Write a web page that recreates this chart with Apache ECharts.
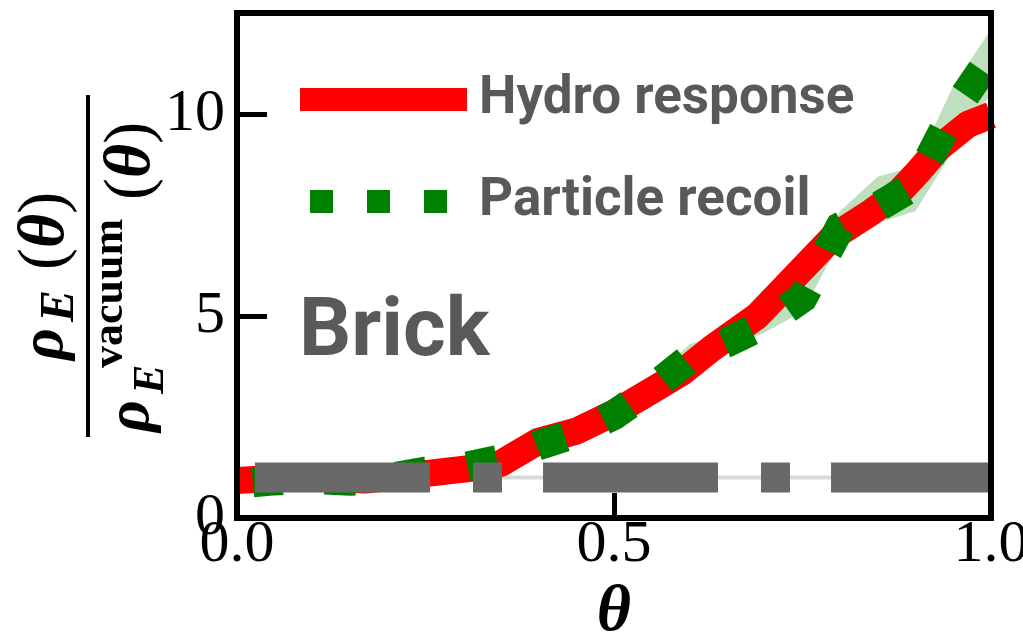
<!DOCTYPE html>
<html>
<head>
<meta charset="utf-8">
<script src="https://cdn.jsdelivr.net/npm/echarts@6/dist/echarts.min.js"></script>
<style>
html,body{margin:0;padding:0;background:#fff;}
#chart{width:1023px;height:633px;}
</style>
</head>
<body>
<div id="chart"></div>
<script>
// ---- data ----
const xTicks = [0, 0.5, 1.0];
const yTicks = [0, 5, 10];

const hydroTheta = [0.0, 0.07, 0.17, 0.25, 0.31, 0.35, 0.40, 0.45, 0.50, 0.55, 0.59, 0.63, 0.69, 0.79, 0.84, 0.88, 0.905, 0.93, 0.97, 1.0];
const hydroValue = [0.93, 1.0, 0.94, 1.1, 1.23, 1.35, 1.9, 2.15, 2.6, 3.15, 3.6, 4.2, 5.0, 6.95, 7.55, 8.1, 8.6, 9.15, 9.75, 9.97];

const recoilTheta = [0.0, 0.05, 0.1, 0.15, 0.2, 0.25, 0.3, 0.35, 0.4, 0.45, 0.5, 0.55, 0.6, 0.65, 0.7, 0.75, 0.8, 0.85, 0.9, 0.95, 1.0];
const recoilValue = [0.85, 0.93, 0.97, 0.92, 0.98, 1.15, 1.25, 1.45, 1.8, 2.1, 2.55, 3.2, 3.95, 4.35, 4.8, 5.45, 7.2, 7.7, 8.25, 10.05, 11.4];
const recoilLow   = [0.75, 0.85, 0.9, 0.85, 0.9, 1.05, 1.15, 1.35, 1.7, 2.0, 2.45, 3.05, 3.75, 4.15, 4.6, 5.1, 6.85, 7.3, 7.6, 9.1, 10.5];
const recoilHigh  = [0.95, 1.0, 1.05, 1.0, 1.06, 1.25, 1.35, 1.55, 1.9, 2.2, 2.65, 3.4, 4.3, 4.6, 5.0, 5.8, 7.6, 8.45, 8.7, 10.7, 12.1];

const vacuumTheta = [0.0, 1.0];
const vacuumValue = [1.0, 1.0];

// ---- chart ----
const chart = echarts.init(document.getElementById('chart'), null, {renderer: 'canvas'});
const serif = 'Liberation Serif';
const sans = 'Roboto';

const pairs = (xs, ys) => xs.map((x, i) => [x, ys[i]]);
const bandData = recoilTheta.map((t, i) => [t, recoilLow[i], recoilHigh[i]]);

const option = {
  animation: false,
  backgroundColor: '#fff',
  grid: {left: 237, right: 32, top: 13, bottom: 115, containLabel: false, outerBoundsMode: 'none'},
  title: {
    text: 'Brick', left: 299, top: 293, padding: 0,
    textStyle: {fontFamily: sans, fontSize: 82, fontWeight: 'bold', color: '#595959'}
  },
  legend: [
    {
      left: 300, top: 73, padding: 0, itemWidth: 167, itemHeight: 23,
      textStyle: {fontFamily: sans, fontSize: 53, fontWeight: 'bold', color: '#595959', padding: [12, 0, 0, 7]},
      data: [{name: 'Hydro response', icon: 'rect', itemStyle: {color: '#ff0000'}}],
      selectedMode: false
    },
    {
      left: 288.5, top: 175, padding: 0, itemWidth: 167, itemHeight: 23,
      textStyle: {fontFamily: sans, fontSize: 53, fontWeight: 'bold', color: '#595959', padding: [12, 0, 0, 7]},
      data: [{name: 'Particle recoil',
              lineStyle: {color: '#008000', width: 23, type: [23, 34], dashOffset: 47, cap: 'butt', opacity: 1},
              itemStyle: {color: 'rgba(0,0,0,0)', borderWidth: 0, opacity: 0}}],
      selectedMode: false
    }
  ],
  xAxis: [
    {
      type: 'value', min: 0, max: 1, interval: 0.5,
      name: 'θ', nameLocation: 'middle', nameGap: 41,
      nameTextStyle: {fontFamily: serif, fontSize: 66, fontWeight: 'bold', fontStyle: 'italic', color: '#000'},
      axisLine: {show: true, onZero: false, lineStyle: {color: '#000', width: 6, cap: 'square'}},
      axisTick: {show: true, inside: true, length: 25, customValues: xTicks, lineStyle: {color: '#000', width: 5}},
      axisLabel: {show: true, margin: -3, customValues: xTicks, formatter: v => v.toFixed(1),
                  fontFamily: serif, fontSize: 60, color: '#000', hideOverlap: false},
      splitLine: {show: false}, z: 10
    },
    {
      type: 'value', min: 0, max: 1, position: 'top',
      axisLine: {show: true, onZero: false, lineStyle: {color: '#000', width: 6, cap: 'square'}},
      axisTick: {show: false}, axisLabel: {show: false}, splitLine: {show: false}, z: 10
    }
  ],
  yAxis: [
    {
      type: 'value', min: 0, max: 12.5, interval: 5,
      axisLine: {show: true, onZero: false, lineStyle: {color: '#000', width: 6, cap: 'square'}},
      axisTick: {show: true, inside: true, length: 30, customValues: yTicks, lineStyle: {color: '#000', width: 5}},
      axisLabel: {show: true, margin: 12, customValues: yTicks, formatter: v => String(v),
                  fontFamily: serif, fontSize: 60, color: '#000'},
      splitLine: {show: false}, z: 10
    },
    {
      type: 'value', min: 0, max: 12.5, position: 'right',
      axisLine: {show: true, onZero: false, lineStyle: {color: '#000', width: 6, cap: 'square'}},
      axisTick: {show: false}, axisLabel: {show: false}, splitLine: {show: false}, z: 10
    }
  ],
  series: [
    {
      name: 'Recoil band', type: 'custom', z: 1, silent: true,
      data: bandData,
      encode: {x: 0, y: [1, 2]},
      renderItem: function (params, api) {
        if (params.dataIndex !== 0) return null;
        const pts = [];
        for (let i = 0; i < recoilTheta.length; i++) pts.push(api.coord([recoilTheta[i], recoilHigh[i]]));
        for (let i = recoilTheta.length - 1; i >= 0; i--) pts.push(api.coord([recoilTheta[i], recoilLow[i]]));
        return {type: 'polygon', shape: {points: pts}, style: {fill: 'rgba(0,128,0,0.25)'}};
      }
    },
    {
      name: 'vacuum ref', type: 'line', z: 2, symbol: 'none', silent: true,
      data: pairs(vacuumTheta, vacuumValue),
      lineStyle: {color: '#d9d9d9', width: 4}
    },
    {
      name: 'Hydro response', type: 'line', z: 3, symbol: 'none',
      data: pairs(hydroTheta, hydroValue),
      lineStyle: {color: '#ff0000', width: 27, join: 'round', cap: 'butt'},
      itemStyle: {color: '#ff0000'}
    },
    {
      name: 'Particle recoil', type: 'line', z: 4, symbol: 'none',
      data: pairs(recoilTheta, recoilValue),
      lineStyle: {color: '#008000', width: 30, type: [30, 42], dashOffset: 56, join: 'miter', cap: 'butt'},
      itemStyle: {color: '#008000'}
    },
    {
      name: 'vacuum dashed', type: 'line', z: 5, symbol: 'none', silent: true,
      data: pairs(vacuumTheta, vacuumValue),
      lineStyle: {color: '#696969', width: 30, type: [175, 43, 29, 41], dashOffset: 270, cap: 'butt'}
    }
  ],
  graphic: [
    {
      type: 'group', x: 88, y: 266, rotation: Math.PI / 2, silent: true,
      children: [
        {type: 'line', shape: {x1: -171, y1: 0, x2: 171, y2: 0}, style: {stroke: '#000', lineWidth: 4}},
        // numerator  rho_E(theta)
        {type: 'text', x: -94, y: -42, style: {text: 'ρ', font: 'italic bold 62px "Liberation Serif"', fill: '#000', align: 'left', verticalAlign: 'middle'}},
        {type: 'text', x: -56, y: -27, style: {text: 'E', font: 'italic bold 48px "Liberation Serif"', fill: '#000', align: 'left', verticalAlign: 'middle'}},
        {type: 'text', x: -4, y: -42, style: {text: '{p|(}{t|θ}{p|)}', fill: '#000', align: 'left', verticalAlign: 'middle',
          rich: {p: {font: '66px "Liberation Serif"'}, t: {font: 'italic bold 66px "Liberation Serif"'}}}},
        // denominator rho_E^vacuum(theta)
        {type: 'text', x: -166, y: 44, style: {text: 'ρ', font: 'italic bold 62px "Liberation Serif"', fill: '#000', align: 'left', verticalAlign: 'middle'}},
        {type: 'text', x: -102, y: 23, style: {text: 'vacuum', font: 'bold 44px "Liberation Serif"', fill: '#000', align: 'left', verticalAlign: 'middle'}},
        {type: 'text', x: -128, y: 64, style: {text: 'E', font: 'italic bold 44px "Liberation Serif"', fill: '#000', align: 'left', verticalAlign: 'middle'}},
        {type: 'text', x: 66, y: 44, style: {text: '{p|(}{t|θ}{p|)}', fill: '#000', align: 'left', verticalAlign: 'middle',
          rich: {p: {font: '66px "Liberation Serif"'}, t: {font: 'italic bold 66px "Liberation Serif"'}}}}
      ]
    }
  ]
};
chart.setOption(option);
</script>
</body>
</html>
